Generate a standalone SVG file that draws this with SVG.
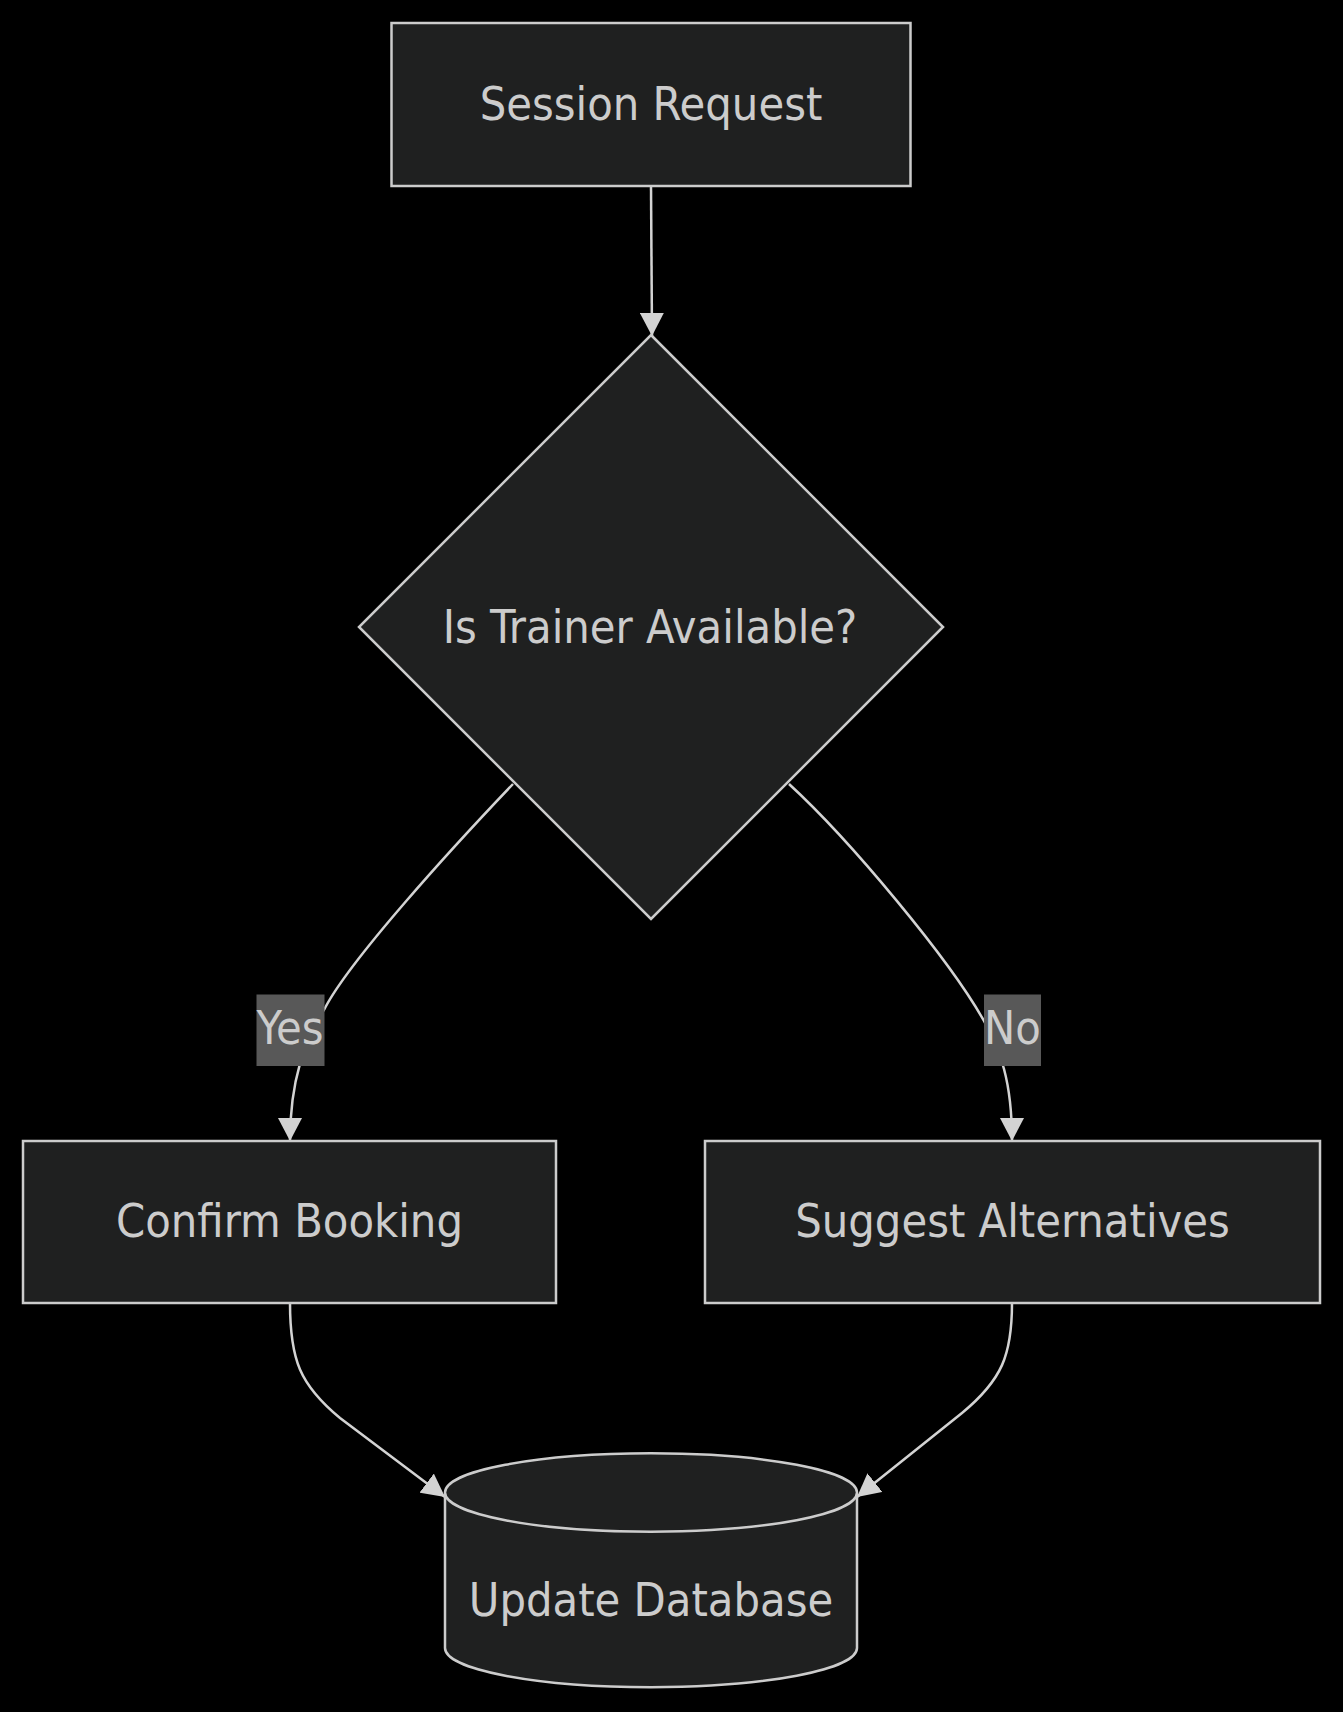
<svg xmlns="http://www.w3.org/2000/svg" width="1343" height="1712" viewBox="0 0 1343 1712">
<style>
.node{fill:#1f2020;stroke:#cccccc;stroke-width:2.5}
.lbl{font-family:"DejaVu Sans Condensed","DejaVu Sans",sans-serif;font-size:46.5px;fill:#cccccc;text-anchor:middle}
.edge{fill:none;stroke:#d3d3d3;stroke-width:2.5}
.elbg{fill:#585858}
</style>
<defs>
<marker id="arrow" markerUnits="userSpaceOnUse" viewBox="0 0 24 24" markerWidth="24" markerHeight="24" refX="23" refY="12" orient="auto">
<path d="M0,0 L23,12 L0,24 z" fill="#d3d3d3"/>
</marker>
</defs>
<rect x="0" y="0" width="1343" height="1712" fill="#000000"/>
<g id="connectors">
<path class="edge" d="M651,186 L652,336" marker-end="url(#arrow)"/>
<path class="edge" d="M513,784 C450,850 350,960 325,1008 C305,1040 290,1080 290,1141" marker-end="url(#arrow)"/>
<path class="edge" d="M789,784 C850,840 950,960 984,1021 C1000,1050 1012,1080 1012,1141" marker-end="url(#arrow)"/>
<path class="edge" d="M290,1303 C290,1360 300,1385 340,1418 L445,1497" marker-end="url(#arrow)"/>
<path class="edge" d="M1012,1303 C1012,1355 1002,1380 962,1413 L857,1497" marker-end="url(#arrow)"/>
</g>
<g id="label-yes">
<rect class="elbg" x="256.5" y="994.5" width="68" height="71.5"/>
<text class="lbl" x="290" y="1044">Yes</text>
</g>
<g id="label-no">
<rect class="elbg" x="984" y="994.5" width="57" height="71.5"/>
<text class="lbl" x="1012.5" y="1044">No</text>
</g>
<g id="node-session-request">
<rect class="node" x="391.5" y="23" width="519" height="163"/>
<text class="lbl" x="651" y="120">Session Request</text>
</g>
<g id="node-trainer-available">
<polygon class="node" points="651,335 943,627 651,919 359,627"/>
<text class="lbl" x="650" y="643">Is Trainer Available?</text>
</g>
<g id="node-confirm-booking">
<rect class="node" x="23" y="1141" width="533" height="162"/>
<text class="lbl" x="289.5" y="1237">Confirm Booking</text>
</g>
<g id="node-suggest-alternatives">
<rect class="node" x="705" y="1141" width="615" height="162"/>
<text class="lbl" x="1012.5" y="1237">Suggest Alternatives</text>
</g>
<g id="node-update-database">
<path class="node" d="M445,1492.5 a206,39.2 0 0,0 412,0 a206,39.2 0 0,0 -412,0 l0,155.5 a206,39.2 0 0,0 412,0 l0,-155.5"/>
<text class="lbl" x="651" y="1616">Update Database</text>
</g>
</svg>
